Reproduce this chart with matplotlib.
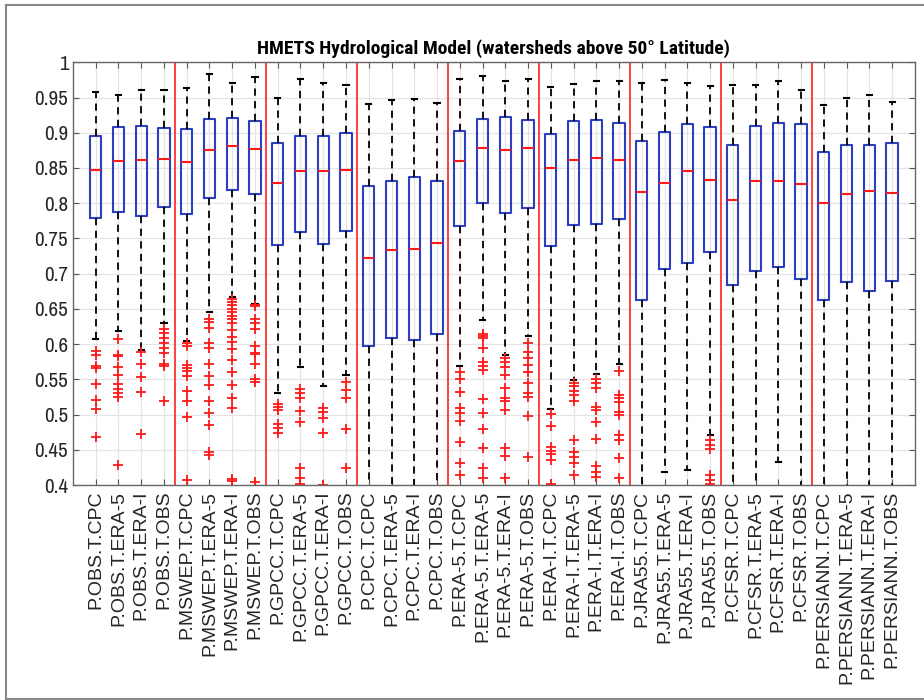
import matplotlib
matplotlib.use('Agg')
import matplotlib.pyplot as plt
from matplotlib.lines import Line2D

# Precipitation / temperature dataset combinations
precip = ['OBS', 'MSWEP', 'GPCC', 'CPC', 'ERA-5', 'ERA-I', 'JRA55', 'CFSR', 'PERSIANN']
temp = ['CPC', 'ERA-5', 'ERA-I', 'OBS']
labels = [f'P.{p}.T.{t}' for p in precip for t in temp]

# Box statistics per combination
medians = [0.847, 0.860, 0.861, 0.863, 0.859, 0.876, 0.881, 0.877,
           0.829, 0.846, 0.846, 0.847, 0.722, 0.733, 0.735, 0.743,
           0.860, 0.878, 0.876, 0.879, 0.850, 0.862, 0.864, 0.862,
           0.816, 0.829, 0.846, 0.833, 0.805, 0.831, 0.831, 0.828,
           0.801, 0.813, 0.818, 0.815]
q1 = [0.779, 0.788, 0.782, 0.795, 0.785, 0.808, 0.819, 0.813,
      0.741, 0.759, 0.742, 0.761, 0.598, 0.609, 0.606, 0.615,
      0.767, 0.800, 0.786, 0.793, 0.739, 0.769, 0.771, 0.777,
      0.662, 0.706, 0.715, 0.731, 0.684, 0.704, 0.709, 0.692,
      0.663, 0.688, 0.676, 0.689]
q3 = [0.895, 0.908, 0.910, 0.907, 0.906, 0.919, 0.921, 0.917,
      0.885, 0.895, 0.896, 0.899, 0.824, 0.832, 0.837, 0.832,
      0.903, 0.920, 0.922, 0.918, 0.898, 0.916, 0.918, 0.914,
      0.889, 0.901, 0.913, 0.908, 0.882, 0.909, 0.914, 0.913,
      0.872, 0.883, 0.883, 0.886]
whisk_hi = [0.958, 0.954, 0.960, 0.961, 0.963, 0.983, 0.970, 0.979,
            0.950, 0.976, 0.970, 0.968, 0.941, 0.946, 0.948, 0.942,
            0.977, 0.980, 0.973, 0.976, 0.965, 0.969, 0.973, 0.973,
            0.970, 0.975, 0.970, 0.967, 0.968, 0.968, 0.973, 0.961,
            0.940, 0.949, 0.954, 0.944]
whisk_lo = [0.608, 0.618, 0.592, 0.630, 0.605, 0.646, 0.667, 0.657,
            0.530, 0.567, 0.541, 0.556, 0.300, 0.300, 0.300, 0.300,
            0.569, 0.635, 0.585, 0.612, 0.508, 0.549, 0.557, 0.572,
            0.300, 0.419, 0.422, 0.471, 0.300, 0.300, 0.433, 0.300,
            0.300, 0.300, 0.300, 0.300]
outliers = [
    [0.590, 0.585, 0.569, 0.566, 0.543, 0.521, 0.508, 0.468],
    [0.607, 0.585, 0.583, 0.567, 0.556, 0.543, 0.536, 0.530, 0.525, 0.428],
    [0.589, 0.572, 0.553, 0.532, 0.473],
    [0.622, 0.616, 0.609, 0.602, 0.594, 0.587, 0.572, 0.569, 0.520],
    [0.602, 0.597, 0.571, 0.566, 0.562, 0.555, 0.534, 0.520, 0.496, 0.407],
    [0.636, 0.632, 0.623, 0.601, 0.595, 0.572, 0.555, 0.542, 0.520, 0.503,
     0.485, 0.447, 0.443],
    [0.664, 0.660, 0.655, 0.650, 0.645, 0.640, 0.636, 0.630, 0.620, 0.610,
     0.603, 0.593, 0.578, 0.560, 0.542, 0.523, 0.510, 0.408, 0.406],
    [0.656, 0.654, 0.636, 0.630, 0.622, 0.598, 0.588, 0.586, 0.572, 0.550,
     0.546, 0.405],
    [0.515, 0.511, 0.506, 0.487, 0.481, 0.474],
    [0.536, 0.530, 0.523, 0.505, 0.490, 0.424, 0.410, 0.401],
    [0.510, 0.504, 0.495, 0.474, 0.400],
    [0.547, 0.535, 0.523, 0.479, 0.424],
    [], [], [], [],
    [0.561, 0.550, 0.532, 0.509, 0.502, 0.491, 0.461, 0.432, 0.414],
    [0.615, 0.612, 0.609, 0.595, 0.574, 0.569, 0.564, 0.522, 0.502, 0.479,
     0.452, 0.424, 0.410],
    [0.580, 0.574, 0.567, 0.556, 0.538, 0.523, 0.520, 0.506, 0.453, 0.442,
     0.410],
    [0.602, 0.589, 0.580, 0.570, 0.561, 0.545, 0.530, 0.525, 0.498, 0.440],
    [0.501, 0.484, 0.454, 0.449, 0.444, 0.436, 0.401],
    [0.545, 0.540, 0.534, 0.528, 0.520, 0.464, 0.447, 0.440, 0.432, 0.415],
    [0.551, 0.545, 0.538, 0.511, 0.506, 0.489, 0.466, 0.427, 0.419, 0.412],
    [0.562, 0.528, 0.523, 0.518, 0.504, 0.499, 0.471, 0.464, 0.438, 0.410],
    [], [], [],
    [0.464, 0.457, 0.451, 0.414, 0.407, 0.401],
    [], [], [], [],
    [], [], [], [],
]
ytick_vals = [0.4, 0.45, 0.5, 0.55, 0.6, 0.65, 0.7, 0.75, 0.8, 0.85, 0.9, 0.95, 1.0]
ytick_text = ['0.4', '0.45', '0.5', '0.55', '0.6', '0.65', '0.7', '0.75',
              '0.8', '0.85', '0.9', '0.95', '1']

stats = []
for i, name in enumerate(labels):
    stats.append({'label': name, 'med': medians[i], 'q1': q1[i], 'q3': q3[i],
                  'whislo': whisk_lo[i], 'whishi': whisk_hi[i],
                  'fliers': outliers[i]})

fig = plt.figure(figsize=(9.24, 7.0), dpi=100)
ax = fig.add_axes([0.079, 0.307, 0.911, 0.604])

positions = list(range(1, len(labels) + 1))
ax.bxp(stats, positions=positions, widths=0.5, capwidths=0.22,
       boxprops=dict(color='#2b3fbf', linewidth=1.5),
       medianprops=dict(color='#ff1a1a', linewidth=1.5),
       whiskerprops=dict(color='black', linewidth=1.3, linestyle=(0, (4, 3))),
       capprops=dict(color='black', linewidth=1.5),
       flierprops=dict(marker='+', markeredgecolor='#ff1a1a', markersize=7,
                       markeredgewidth=1.3, linestyle='none'))

# separators between precipitation groups
for k in range(1, len(precip)):
    ax.axvline(4 * k + 0.5, color='#ff3030', linewidth=1.3, zorder=1)

ax.set_xlim(0, len(labels) + 1)
ax.set_ylim(0.4, 1.0)
ax.set_yticks(ytick_vals)
ax.set_yticklabels(ytick_text, fontsize=15,
                   family=['Archivo Narrow', 'Liberation Sans'])
ax.set_xticks(positions)
ax.set_xticklabels(labels, rotation=90, fontsize=14, family='Liberation Sans')

ax.grid(True, color='#e4e4e4', linewidth=0.9, zorder=0)
ax.set_axisbelow(True)
ax.tick_params(direction='in', top=True, right=True, length=4, color='#555555',
               labelcolor='#262626')
ax.tick_params(axis='x', pad=4)
for s in ax.spines.values():
    s.set_color('#666666')
    s.set_linewidth(1.0)

ax.set_title('HMETS Hydrological Model (watersheds above 50° Latitude)',
             fontsize=14, fontweight='bold',
             family=['Roboto Condensed', 'Liberation Sans'], pad=6)

# thin frame around the figure
for xs, ys in [([0.006, 1.0], [0.993, 0.993]), ([0.006, 0.006], [0.002, 0.993]),
               ([0.006, 1.0], [0.002, 0.002])]:
    fig.add_artist(Line2D(xs, ys, color='#888888', linewidth=1.5))

fig.savefig('out.png', dpi=100)
